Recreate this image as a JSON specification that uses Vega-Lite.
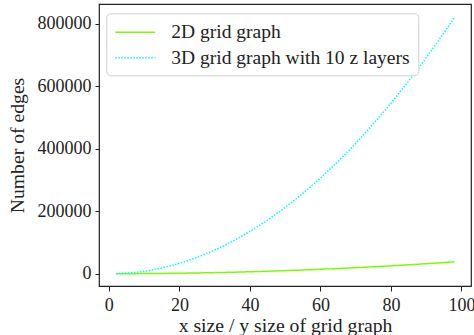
{
  "$schema": "https://vega.github.io/schema/vega-lite/v6.json",
  "autosize": "none",
  "width": 372,
  "height": 282,
  "padding": {"left": 99, "top": 4, "right": 3, "bottom": 49},
  "background": "white",
  "config": {
    "font": "Liberation Serif",
    "view": {"stroke": "#222", "strokeWidth": 1.2},
    "axis": {
      "grid": false,
      "domain": false,
      "tickColor": "#222",
      "tickWidth": 1,
      "labelFont": "Liberation Serif",
      "labelFontSize": 18,
      "labelColor": "#222",
      "titleFont": "Liberation Serif",
      "titleFontSize": 19.7,
      "titleFontWeight": "normal",
      "titleColor": "#222"
    },
    "legend": {"labelFont": "Liberation Serif", "labelLimit": 400}
  },
  "data": {
    "values": [
      {"n": 2, "edges": 8, "graph": "2D grid graph"},
      {"n": 6, "edges": 120, "graph": "2D grid graph"},
      {"n": 10, "edges": 360, "graph": "2D grid graph"},
      {"n": 14, "edges": 728, "graph": "2D grid graph"},
      {"n": 18, "edges": 1224, "graph": "2D grid graph"},
      {"n": 22, "edges": 1848, "graph": "2D grid graph"},
      {"n": 26, "edges": 2600, "graph": "2D grid graph"},
      {"n": 30, "edges": 3480, "graph": "2D grid graph"},
      {"n": 34, "edges": 4488, "graph": "2D grid graph"},
      {"n": 38, "edges": 5624, "graph": "2D grid graph"},
      {"n": 42, "edges": 6888, "graph": "2D grid graph"},
      {"n": 46, "edges": 8280, "graph": "2D grid graph"},
      {"n": 50, "edges": 9800, "graph": "2D grid graph"},
      {"n": 54, "edges": 11448, "graph": "2D grid graph"},
      {"n": 58, "edges": 13224, "graph": "2D grid graph"},
      {"n": 62, "edges": 15128, "graph": "2D grid graph"},
      {"n": 66, "edges": 17160, "graph": "2D grid graph"},
      {"n": 70, "edges": 19320, "graph": "2D grid graph"},
      {"n": 74, "edges": 21608, "graph": "2D grid graph"},
      {"n": 78, "edges": 24024, "graph": "2D grid graph"},
      {"n": 82, "edges": 26568, "graph": "2D grid graph"},
      {"n": 86, "edges": 29240, "graph": "2D grid graph"},
      {"n": 90, "edges": 32040, "graph": "2D grid graph"},
      {"n": 94, "edges": 34968, "graph": "2D grid graph"},
      {"n": 98, "edges": 38024, "graph": "2D grid graph"},
      {"n": 2, "edges": 250, "graph": "3D grid graph with 10 z layers"},
      {"n": 6, "edges": 2800, "graph": "3D grid graph with 10 z layers"},
      {"n": 10, "edges": 8100, "graph": "3D grid graph with 10 z layers"},
      {"n": 14, "edges": 16150, "graph": "3D grid graph with 10 z layers"},
      {"n": 18, "edges": 26960, "graph": "3D grid graph with 10 z layers"},
      {"n": 22, "edges": 40520, "graph": "3D grid graph with 10 z layers"},
      {"n": 26, "edges": 56840, "graph": "3D grid graph with 10 z layers"},
      {"n": 30, "edges": 75900, "graph": "3D grid graph with 10 z layers"},
      {"n": 34, "edges": 97720, "graph": "3D grid graph with 10 z layers"},
      {"n": 38, "edges": 122280, "graph": "3D grid graph with 10 z layers"},
      {"n": 42, "edges": 149600, "graph": "3D grid graph with 10 z layers"},
      {"n": 46, "edges": 179680, "graph": "3D grid graph with 10 z layers"},
      {"n": 50, "edges": 212500, "graph": "3D grid graph with 10 z layers"},
      {"n": 54, "edges": 248080, "graph": "3D grid graph with 10 z layers"},
      {"n": 58, "edges": 286400, "graph": "3D grid graph with 10 z layers"},
      {"n": 62, "edges": 327480, "graph": "3D grid graph with 10 z layers"},
      {"n": 66, "edges": 371320, "graph": "3D grid graph with 10 z layers"},
      {"n": 70, "edges": 417900, "graph": "3D grid graph with 10 z layers"},
      {"n": 74, "edges": 467240, "graph": "3D grid graph with 10 z layers"},
      {"n": 78, "edges": 519320, "graph": "3D grid graph with 10 z layers"},
      {"n": 82, "edges": 574160, "graph": "3D grid graph with 10 z layers"},
      {"n": 86, "edges": 631760, "graph": "3D grid graph with 10 z layers"},
      {"n": 90, "edges": 692100, "graph": "3D grid graph with 10 z layers"},
      {"n": 94, "edges": 755200, "graph": "3D grid graph with 10 z layers"},
      {"n": 98, "edges": 821000, "graph": "3D grid graph with 10 z layers"}
    ]
  },
  "mark": {"type": "line", "strokeWidth": 1.5, "interpolate": "monotone"},
  "encoding": {
    "x": {
      "field": "n",
      "type": "quantitative",
      "scale": {"domain": [-2.8, 102.7], "nice": false, "zero": false},
      "axis": {"values": [0, 20, 40, 60, 80, 100], "title": "x size / y size of grid graph", "tickSize": 5, "labelPadding": 5, "titleBaseline": "alphabetic", "titleY": 45.7}
    },
    "y": {
      "field": "edges",
      "type": "quantitative",
      "scale": {"domain": [-39400, 864000], "nice": false, "zero": false},
      "axis": {"values": [0, 200000, 400000, 600000, 800000], "format": "d", "title": "Number of edges", "tickSize": 4, "labelPadding": 4, "titleBaseline": "alphabetic", "titleX": -75.5}
    },
    "color": {
      "field": "graph",
      "type": "nominal",
      "scale": {"domain": ["2D grid graph", "3D grid graph with 10 z layers"], "range": ["#7CFC00", "#00FFFF"]},
      "legend": {
        "title": null,
        "orient": "none",
        "legendX": 7.3,
        "legendY": 9.3,
        "symbolType": "M-1,0H3",
        "symbolSize": 400,
        "symbolStrokeWidth": 1.5,
        "labelFontSize": 19.5,
        "labelColor": "#222",
        "labelOffset": 35,
        "padding": 8,
        "strokeColor": "#d0d0d0",
        "fillColor": "white",
        "cornerRadius": 4,
        "rowPadding": 4.5
      }
    },
    "strokeDash": {
      "field": "graph",
      "type": "nominal",
      "scale": {"domain": ["2D grid graph", "3D grid graph with 10 z layers"], "range": [[1, 0], [1.5, 1.5]]},
      "legend": null
    }
  }
}
